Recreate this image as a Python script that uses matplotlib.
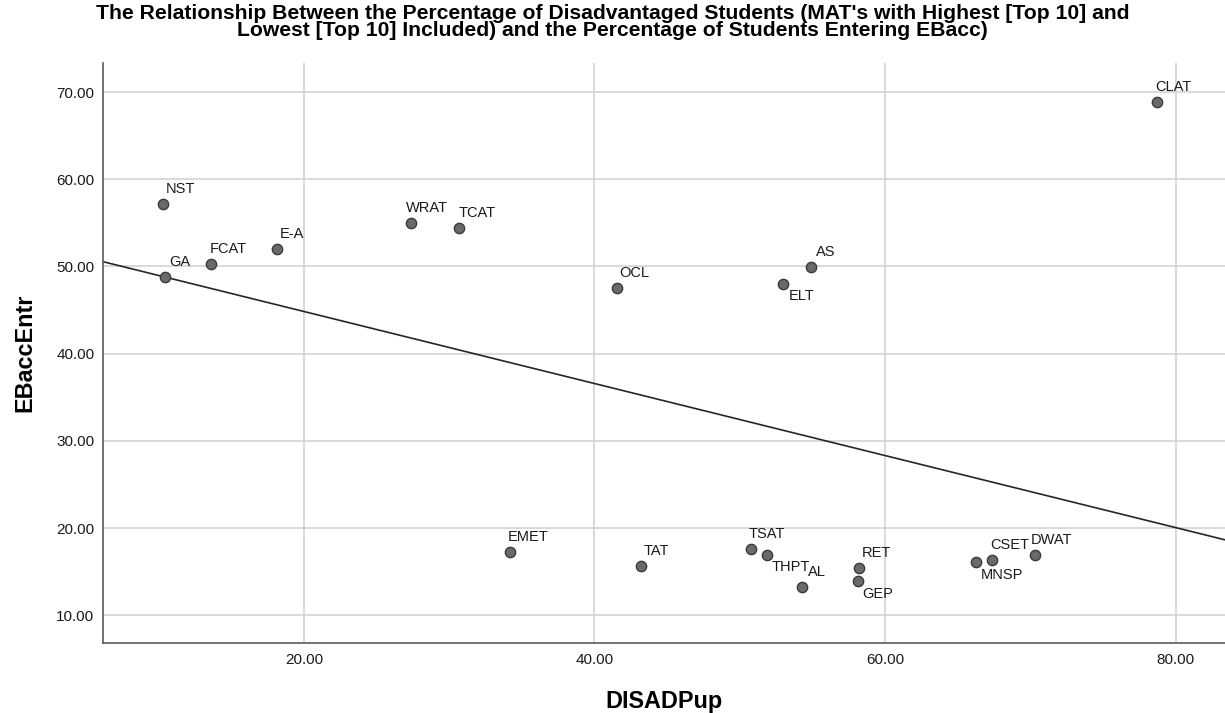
import matplotlib.pyplot as plt

plt.rcParams['font.family'] = ['Liberation Sans', 'DejaVu Sans']

# data
names = ['NST', 'GA', 'FCAT', 'E-A', 'WRAT', 'TCAT', 'OCL', 'ELT', 'AS', 'CLAT',
         'EMET', 'TAT', 'TSAT', 'THPT', 'AL', 'RET', 'GEP', 'MNSP', 'CSET', 'DWAT']
disad = [10.27, 10.43, 13.63, 18.12, 27.39, 30.70, 41.54, 53.00, 54.93, 78.73,
         34.20, 43.20, 50.77, 51.87, 54.27, 58.21, 58.12, 66.26, 67.34, 70.35]
ebacc = [57.22, 48.85, 50.27, 51.99, 55.04, 54.43, 47.55, 48.04, 49.96, 68.81,
         17.23, 15.66, 17.57, 16.95, 13.25, 15.46, 13.94, 16.12, 16.31, 16.95]

# fit line as drawn on the chart
fit_intercept = 53.1
fit_slope = -0.413

xticks = [20, 40, 60, 80]
yticks = [10, 20, 30, 40, 50, 60, 70]

# labels placed under the point, plus small horizontal nudges (px)
below = {'ELT', 'THPT', 'GEP', 'MNSP'}
nudge = {'NST': 3, 'GA': 4, 'FCAT': -2, 'E-A': 3, 'WRAT': -5, 'TCAT': -1,
         'OCL': 2, 'AS': 5, 'CLAT': -2, 'EMET': -2, 'TAT': 3, 'TSAT': -2,
         'AL': 6, 'RET': 3, 'CSET': -1, 'DWAT': -5}

title = ("The Relationship Between the Percentage of Disadvantaged Students (MAT's with Highest [Top 10] and\n"
         "Lowest [Top 10] Included) and the Percentage of Students Entering EBacc)")

fig = plt.figure(figsize=(12.25, 7.13), dpi=100)
ax = fig.add_axes([102.7 / 1225, 1 - 643.3 / 713, 1 - 102.7 / 1225, 580 / 713])

ax.set_xlim(6.15, 83.4)
ax.set_ylim(6.79, 73.3)

ax.grid(True, color='#cfcfcf', linewidth=1.1, zorder=0)
ax.set_axisbelow(True)

x0, x1 = ax.get_xlim()
ax.plot([x0, x1], [fit_intercept + fit_slope * x0, fit_intercept + fit_slope * x1],
        color='#262626', linewidth=1.2, zorder=2)

ax.scatter(disad, ebacc, s=55, color='#6a6a6a', edgecolor='#3a3a3a',
           linewidth=1.0, zorder=3)

px = 0.72  # points per pixel at 100 dpi
for n, x, y in zip(names, disad, ebacc):
    if n in below:
        ax.annotate(n, (x, y), xytext=(5 * px, -5.7 * px), textcoords='offset points',
                    ha='left', va='top', fontsize=10.5, color='#1a1a1a', zorder=4)
    else:
        ax.annotate(n, (x, y), xytext=(nudge.get(n, 0) * px, 11 * px),
                    textcoords='offset points', ha='left', va='baseline',
                    fontsize=10.5, color='#1a1a1a', zorder=4)

ax.set_xticks(xticks)
ax.set_yticks(yticks)
ax.set_xticklabels(['%.2f' % t for t in xticks])
ax.set_yticklabels(['%.2f' % t for t in yticks])
ax.tick_params(axis='both', length=0, labelsize=11, colors='#1a1a1a')
ax.tick_params(axis='x', pad=7)
ax.tick_params(axis='y', pad=6)

for s in ['top', 'right']:
    ax.spines[s].set_visible(False)
for s in ['left', 'bottom']:
    ax.spines[s].set_color('#5a5a5a')
    ax.spines[s].set_linewidth(1.2)

ax.set_xlabel('DISADPup', fontsize=16.8, fontweight='bold', va='baseline')
ax.xaxis.set_label_coords(0.5, -(708 - 643.3) / 580)
ax.set_ylabel('EBaccEntr', fontsize=16.8, fontweight='bold', va='baseline')
ax.yaxis.set_label_coords(-(102.7 - 31.7) / 1122.3, 0.5)

fig.text(0.5, 1 - 36 / 713, title, ha='center', va='baseline',
         multialignment='center', linespacing=0.85, fontsize=15.2, fontweight='bold')

fig.savefig('out.png', dpi=100)
